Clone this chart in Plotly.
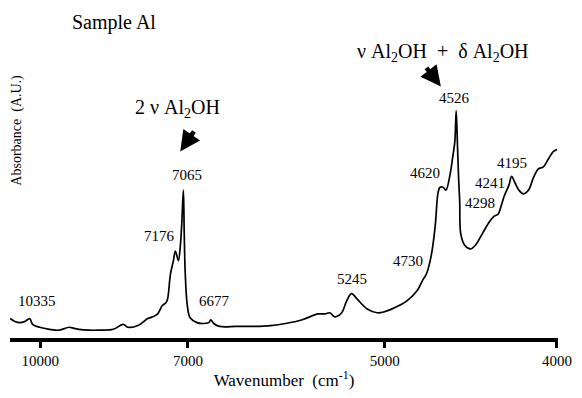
import plotly.graph_objects as go

# Spectrum: wavenumber (cm-1) and absorbance (arbitrary units)
wavenumber = [10966, 10797, 10633, 10473, 10319, 10228, 10023, 9744, 9480, 9230, 9110, 8993,
              8767, 8554, 8251, 8061, 7969, 7792, 7622, 7540, 7459, 7381, 7334, 7304, 7258,
              7213, 7183, 7139, 7110, 7089, 7065, 7053, 7039, 7011, 6969, 6873, 6806, 6715,
              6689, 6651, 6576, 6372, 6181, 5991, 5841, 5680, 5536, 5475, 5433, 5391, 5333,
              5293, 5253, 5206, 5130, 5056, 5005, 4935, 4846, 4780, 4735, 4715, 4684, 4659,
              4640, 4628, 4610, 4592, 4568, 4550, 4538, 4530, 4522, 4515, 4509, 4503, 4480,
              4446, 4418, 4379, 4341, 4314, 4293, 4278, 4262, 4252, 4236, 4222, 4206, 4185,
              4161, 4136, 4112, 4088, 4064, 4040, 4017, 3999]
absorbance = [0.067, 0.057, 0.053, 0.057, 0.067, 0.047, 0.037, 0.030, 0.027, 0.037, 0.033, 0.030,
              0.027, 0.027, 0.030, 0.047, 0.037, 0.043, 0.067, 0.073, 0.083, 0.113, 0.120, 0.133, 0.220,
              0.267, 0.300, 0.267, 0.317, 0.393, 0.510, 0.360, 0.227, 0.117, 0.070, 0.053, 0.050, 0.053,
              0.063, 0.050, 0.040, 0.040, 0.040, 0.043, 0.050, 0.063, 0.083, 0.083, 0.087, 0.073, 0.087,
              0.127, 0.153, 0.133, 0.100, 0.087, 0.090, 0.103, 0.127, 0.160, 0.203, 0.220, 0.283, 0.383,
              0.503, 0.520, 0.520, 0.510, 0.560, 0.627, 0.677, 0.783, 0.660, 0.543, 0.470, 0.360, 0.320,
              0.307, 0.320, 0.360, 0.400, 0.420, 0.427, 0.453, 0.487, 0.503, 0.527, 0.557, 0.537, 0.510,
              0.497, 0.510, 0.553, 0.583, 0.590, 0.617, 0.643, 0.650]

tick_wavenumbers = [10000, 7000, 5000, 4000]
tick_labels = ["10000", "7000", "5000", "4000"]

# Peak labels: text, label centre (wavenumber, absorbance)
peak_labels = ["10335", "7176", "7065", "6677", "5245", "4730", "4620", "4526", "4298", "4241", "4195"]
label_wn = [10110, 7428, 7015, 6640, 5248, 4835, 4724, 4540, 4392, 4337, 4222]
label_abs = [0.127, 0.353, 0.563, 0.127, 0.203, 0.267, 0.570, 0.827, 0.467, 0.533, 0.603]

# The axis is linear in wavelength (nm) but labelled in wavenumber
def to_x(wn):
    return 1e7 / wn

SERIF = "Liberation Serif, Times New Roman, serif"

fig = go.Figure()
fig.add_trace(go.Scatter(
    x=[to_x(w) for w in wavenumber], y=absorbance, mode="lines",
    line=dict(color="black", width=1.7), line_shape="spline",
    hoverinfo="skip", showlegend=False))

for t, w, a in zip(peak_labels, label_wn, label_abs):
    fig.add_annotation(x=to_x(w), y=a, text=t, showarrow=False,
                       xanchor="center", yanchor="middle",
                       font=dict(family=SERIF, size=15, color="black"))

# Assignment labels and arrows
fig.add_annotation(x=to_x(7155), y=0.793, text="2 ν Al<sub>2</sub>OH", showarrow=False,
                   xanchor="center", yanchor="middle",
                   font=dict(family=SERIF, size=20, color="black"))
fig.add_annotation(x=to_x(4611), y=0.983, text="ν Al<sub>2</sub>OH  +  δ Al<sub>2</sub>OH",
                   showarrow=False, xanchor="center", yanchor="middle",
                   font=dict(family=SERIF, size=20, color="black"))
fig.add_annotation(x=to_x(7111), y=0.643, ax=to_x(6901), ay=0.717, axref="x", ayref="y",
                   text="", showarrow=True, arrowhead=2, arrowsize=0.9, arrowwidth=4.5,
                   arrowcolor="black")
fig.add_annotation(x=to_x(4623), y=0.867, ax=to_x(4722), ay=0.937, axref="x", ayref="y",
                   text="", showarrow=True, arrowhead=2, arrowsize=0.9, arrowwidth=4.5,
                   arrowcolor="black")

fig.add_annotation(xref="paper", yref="paper", x=0.19, y=1.087, text="Sample Al",
                   showarrow=False, xanchor="center", yanchor="middle",
                   font=dict(family=SERIF, size=20, color="black"))
fig.add_annotation(xref="paper", yref="paper", x=0.012, y=0.717, text="Absorbance  (A.U.)",
                   textangle=-90, showarrow=False, xanchor="center", yanchor="middle",
                   font=dict(family=SERIF, size=14, color="black"))

fig.update_layout(
    width=582, height=398,
    margin=dict(l=10, r=15, t=48, b=50),
    paper_bgcolor="white", plot_bgcolor="white",
    xaxis=dict(range=[911.9, 2503.2], showgrid=False, zeroline=False,
               showline=True, linecolor="black", linewidth=4,
               ticks="outside", ticklen=6, tickwidth=3, tickcolor="black",
               tickvals=[to_x(w) for w in tick_wavenumbers], ticktext=tick_labels,
               tickfont=dict(family=SERIF, size=15, color="black"),
               title=dict(text="Wavenumber  (cm<sup>-1</sup>)", standoff=7,
                          font=dict(family=SERIF, size=17, color="black"))),
    yaxis=dict(range=[0, 1], visible=False, showgrid=False, zeroline=False),
)

fig.write_html("out.html")
